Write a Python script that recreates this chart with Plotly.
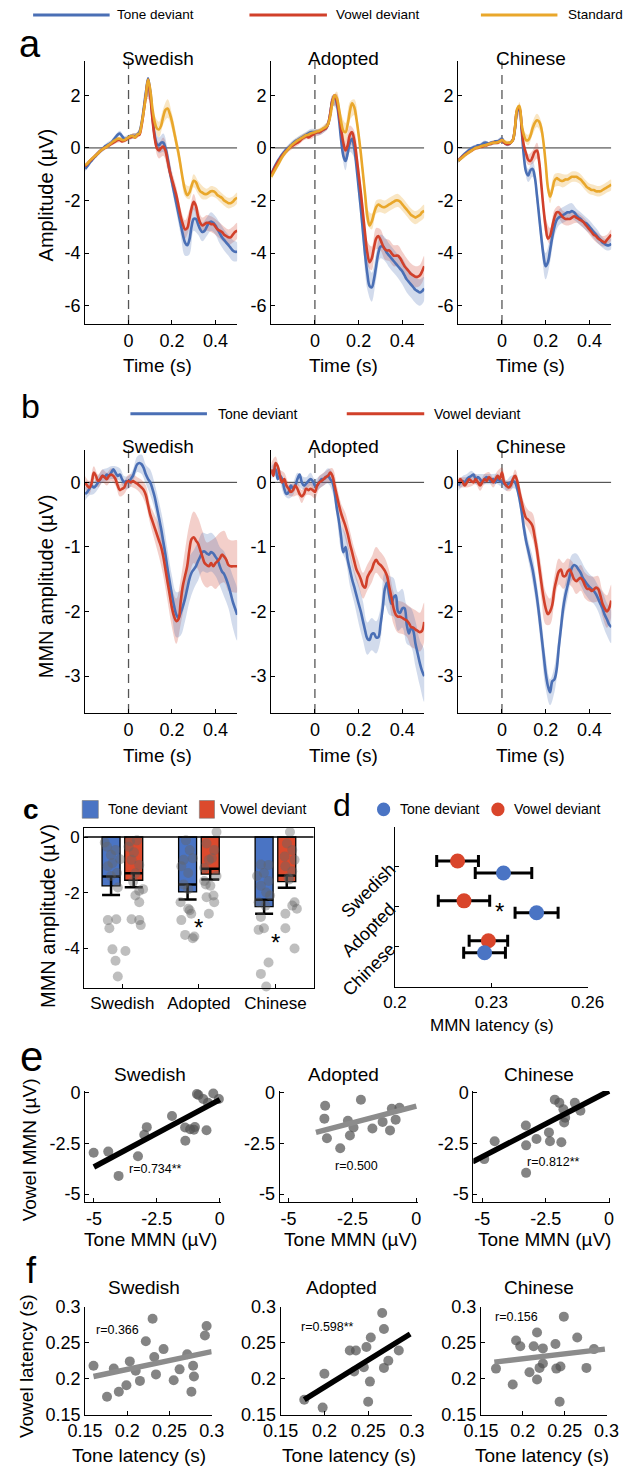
import numpy as np
import plotly.graph_objects as go

W, H = 633, 1480
FONT = "Liberation Sans, Arial, Helvetica, sans-serif"

GROUPS = ["Swedish", "Adopted", "Chinese"]
TIME = np.round(np.linspace(-0.2, 0.5, 71), 2)   # sample times (s), 10 ms steps

# ---------------- panel a : ERPs (µV) ----------------
A_SWE_STD = [-0.65,-0.6,-0.5,-0.42,-0.35,-0.28,-0.2,-0.12,-0.05,0.0,
             0.05,0.12,0.18,0.25,0.3,0.35,0.35,0.3,0.3,0.35,
             0.4,0.45,0.45,0.4,0.5,0.55,0.9,1.4,2.0,2.6,
             2.2,1.5,1.0,0.75,0.7,0.85,1.2,1.45,1.5,1.3,
             1.0,0.6,0.2,-0.2,-0.7,-1.2,-1.6,-1.8,-1.7,-1.45,
             -1.25,-1.3,-1.5,-1.65,-1.7,-1.75,-1.75,-1.7,-1.65,-1.65,
             -1.7,-1.8,-1.85,-1.9,-2.0,-2.05,-2.1,-2.1,-2.05,-1.95,-1.9]
A_SWE_VOW = [-0.7,-0.62,-0.52,-0.44,-0.36,-0.28,-0.2,-0.12,-0.05,0.0,
             0.05,0.1,0.15,0.2,0.25,0.3,0.3,0.25,0.28,0.32,
             0.38,0.4,0.45,0.4,0.48,0.5,0.85,1.4,2.0,2.6,
             2.0,1.1,0.4,0.0,-0.1,0.0,0.05,-0.1,-0.5,-0.9,
             -1.2,-1.5,-1.8,-2.2,-2.6,-2.9,-3.1,-3.05,-2.7,-2.3,
             -2.05,-2.2,-2.6,-2.85,-2.95,-2.9,-2.85,-2.85,-2.9,-2.9,
             -3.0,-3.1,-3.15,-3.2,-3.3,-3.35,-3.4,-3.4,-3.3,-3.2,-3.15]
A_SWE_TONE = [-0.8,-0.7,-0.58,-0.48,-0.38,-0.3,-0.2,-0.12,-0.05,0.05,
              0.1,0.15,0.2,0.3,0.4,0.5,0.55,0.45,0.35,0.35,
              0.4,0.45,0.45,0.45,0.5,0.6,0.95,1.5,2.1,2.65,
              2.1,1.2,0.5,0.15,0.1,0.2,0.2,0.0,-0.4,-0.9,
              -1.3,-1.7,-2.1,-2.5,-2.9,-3.3,-3.6,-3.7,-3.5,-3.0,
              -2.7,-2.7,-2.9,-3.1,-3.2,-3.15,-3.0,-2.85,-2.8,-2.85,
              -2.95,-3.1,-3.25,-3.4,-3.5,-3.6,-3.7,-3.8,-3.9,-3.95,-3.95]
A_ADO_STD = [-1.1,-0.95,-0.8,-0.65,-0.5,-0.35,-0.22,-0.12,-0.02,0.08,
             0.15,0.22,0.28,0.33,0.38,0.43,0.48,0.5,0.55,0.58,
             0.6,0.63,0.65,0.7,0.75,0.8,0.9,1.2,1.7,2.0,
             1.9,1.5,1.0,0.65,0.6,0.9,1.4,1.7,1.55,1.1,
             0.5,-0.2,-1.0,-1.8,-2.6,-2.95,-2.8,-2.5,-2.25,-2.15,
             -2.2,-2.25,-2.25,-2.2,-2.15,-2.1,-2.05,-2.0,-2.0,-2.05,
             -2.15,-2.25,-2.35,-2.45,-2.55,-2.6,-2.65,-2.6,-2.55,-2.45,-2.4]
A_ADO_VOW = [-1.0,-0.85,-0.7,-0.55,-0.42,-0.3,-0.2,-0.1,-0.02,0.05,
             0.1,0.15,0.2,0.25,0.35,0.4,0.45,0.4,0.45,0.5,
             0.55,0.6,0.6,0.65,0.7,0.75,0.9,1.3,1.8,2.0,
             1.8,1.3,0.7,0.2,-0.1,0.1,0.5,0.6,0.3,-0.3,
             -1.0,-1.7,-2.5,-3.3,-4.0,-4.35,-4.2,-3.8,-3.45,-3.35,
             -3.5,-3.7,-3.85,-3.9,-3.9,-4.0,-4.1,-4.1,-4.1,-4.2,
             -4.35,-4.5,-4.6,-4.7,-4.8,-4.85,-4.9,-4.9,-4.85,-4.7,-4.5]
A_ADO_TONE = [-1.0,-0.82,-0.65,-0.5,-0.38,-0.25,-0.15,-0.05,0.02,0.1,
              0.18,0.25,0.3,0.35,0.4,0.45,0.5,0.55,0.6,0.6,
              0.6,0.6,0.6,0.65,0.7,0.75,0.9,1.3,1.8,1.95,
              1.7,1.1,0.3,-0.3,-0.5,-0.2,0.2,0.35,0.0,-0.7,
              -1.5,-2.3,-3.2,-4.1,-4.8,-5.25,-5.3,-5.0,-4.5,-4.0,
              -3.75,-3.75,-3.85,-4.0,-4.1,-4.2,-4.3,-4.4,-4.5,-4.6,
              -4.7,-4.85,-5.0,-5.1,-5.2,-5.3,-5.4,-5.45,-5.5,-5.45,-5.35]
A_CHI_STD = [-0.5,-0.42,-0.35,-0.28,-0.22,-0.16,-0.1,-0.05,0.0,0.02,
             0.05,0.08,0.1,0.12,0.15,0.18,0.2,0.2,0.22,0.25,
             0.3,0.25,0.2,0.2,0.2,0.3,0.8,1.5,1.6,0.9,
             0.5,0.3,0.3,0.45,0.75,0.95,1.05,1.0,0.75,0.2,
             -0.6,-1.5,-1.85,-1.6,-1.25,-1.15,-1.2,-1.25,-1.25,-1.2,
             -1.2,-1.15,-1.1,-1.1,-1.1,-1.15,-1.2,-1.3,-1.4,-1.5,
             -1.55,-1.6,-1.6,-1.65,-1.65,-1.65,-1.6,-1.55,-1.5,-1.45,-1.4]
A_CHI_VOW = [-0.45,-0.4,-0.33,-0.27,-0.2,-0.15,-0.1,-0.05,0.0,0.0,
             0.05,0.05,0.1,0.1,0.15,0.15,0.2,0.2,0.2,0.25,
             0.3,0.2,0.15,0.15,0.2,0.3,0.8,1.45,1.5,0.8,
             0.1,-0.2,-0.45,-0.5,-0.35,-0.15,-0.1,-0.5,-1.4,-2.3,
             -3.0,-3.45,-3.35,-3.0,-2.65,-2.45,-2.45,-2.55,-2.65,-2.7,
             -2.7,-2.7,-2.65,-2.6,-2.65,-2.7,-2.75,-2.8,-2.9,-3.0,
             -3.1,-3.2,-3.3,-3.35,-3.45,-3.5,-3.55,-3.6,-3.5,-3.4,-3.3]
A_CHI_TONE = [-0.5,-0.4,-0.3,-0.22,-0.15,-0.08,-0.02,0.03,0.05,0.1,
              0.1,0.15,0.2,0.2,0.15,0.2,0.2,0.25,0.25,0.3,
              0.35,0.2,0.15,0.15,0.2,0.3,0.75,1.4,1.45,0.7,
              -0.3,-0.9,-1.05,-0.85,-0.8,-1.1,-1.8,-2.6,-3.4,-4.1,
              -4.5,-4.35,-3.9,-3.4,-3.0,-2.75,-2.65,-2.6,-2.55,-2.5,
              -2.45,-2.45,-2.4,-2.45,-2.55,-2.65,-2.7,-2.8,-2.85,-2.9,
              -3.0,-3.1,-3.2,-3.3,-3.4,-3.5,-3.6,-3.65,-3.7,-3.7,-3.65]

# standard errors, every 20 ms
A_SWE_STD_SE = [0.08,0.08,0.08,0.08,0.08,0.08,0.08,0.08,0.08,0.08,
                0.08,0.1,0.1,0.12,0.15,0.2,0.25,0.3,0.3,0.35,0.3,0.3,0.25,0.25,0.25,0.25,
                0.25,0.25,0.2,0.2,0.2,0.2,0.2,0.2,0.2,0.2]
A_SWE_VOW_SE = [0.08,0.08,0.08,0.08,0.08,0.08,0.08,0.08,0.08,0.08,
                0.08,0.1,0.1,0.12,0.15,0.2,0.25,0.3,0.35,0.35,0.3,0.3,0.3,0.35,0.35,0.3,
                0.3,0.3,0.3,0.3,0.3,0.3,0.3,0.3,0.3,0.3]
A_SWE_TONE_SE = [0.1,0.1,0.1,0.1,0.1,0.1,0.1,0.1,0.1,0.1,
                 0.1,0.1,0.1,0.12,0.18,0.2,0.25,0.3,0.35,0.35,0.3,0.35,0.4,0.5,0.55,0.45,
                 0.4,0.35,0.35,0.35,0.35,0.4,0.4,0.4,0.4,0.35]
A_ADO_STD_SE = [0.12,0.12,0.12,0.12,0.12,0.12,0.12,0.12,0.12,0.12,
                0.1,0.1,0.12,0.12,0.15,0.25,0.3,0.35,0.35,0.3,0.3,0.3,0.3,0.3,0.25,0.25,
                0.25,0.25,0.25,0.25,0.25,0.25,0.25,0.25,0.25,0.25]
A_ADO_VOW_SE = [0.12,0.12,0.12,0.12,0.12,0.12,0.12,0.12,0.12,0.12,
                0.12,0.12,0.12,0.15,0.2,0.25,0.3,0.35,0.35,0.35,0.4,0.45,0.45,0.45,0.4,0.4,
                0.4,0.4,0.4,0.4,0.4,0.4,0.4,0.4,0.4,0.4]
A_ADO_TONE_SE = [0.12,0.12,0.12,0.12,0.12,0.12,0.12,0.12,0.12,0.12,
                 0.12,0.12,0.12,0.15,0.2,0.25,0.3,0.35,0.35,0.4,0.45,0.55,0.6,0.55,0.5,0.45,
                 0.45,0.45,0.45,0.45,0.5,0.5,0.5,0.5,0.5,0.45]
A_CHI_STD_SE = [0.08,0.08,0.08,0.08,0.08,0.08,0.08,0.08,0.08,0.08,
                0.08,0.08,0.08,0.1,0.15,0.15,0.2,0.25,0.25,0.25,0.25,0.25,0.25,0.25,0.25,0.2,
                0.2,0.2,0.2,0.2,0.2,0.2,0.2,0.2,0.2,0.2]
A_CHI_VOW_SE = [0.08,0.08,0.08,0.08,0.08,0.08,0.08,0.08,0.08,0.08,
                0.08,0.08,0.08,0.1,0.15,0.2,0.2,0.25,0.3,0.3,0.35,0.3,0.3,0.25,0.25,0.25,
                0.25,0.2,0.2,0.2,0.2,0.2,0.2,0.2,0.2,0.2]
A_CHI_TONE_SE = [0.08,0.08,0.08,0.08,0.08,0.08,0.08,0.08,0.08,0.08,
                 0.08,0.08,0.08,0.1,0.15,0.2,0.25,0.3,0.35,0.4,0.5,0.45,0.35,0.3,0.3,0.3,
                 0.3,0.25,0.25,0.25,0.25,0.25,0.25,0.2,0.2,0.2]

# ---------------- panel b : MMN (µV) ----------------
B_SWE_TONE = [-0.18,-0.15,-0.1,-0.05,-0.08,-0.05,0.0,0.05,0.1,0.08,
              0.12,0.1,0.15,0.2,0.15,0.1,0.12,0.05,0.0,0.02,
              0.0,0.05,0.1,0.2,0.28,0.3,0.28,0.22,0.12,0.05,
              0.0,-0.1,-0.22,-0.38,-0.55,-0.72,-0.92,-1.12,-1.35,-1.55,
              -1.75,-1.92,-2.05,-2.1,-2.02,-1.92,-1.8,-1.65,-1.5,-1.4,
              -1.35,-1.3,-1.22,-1.15,-1.08,-1.07,-1.1,-1.12,-1.08,-1.1,
              -1.15,-1.2,-1.3,-1.38,-1.42,-1.5,-1.6,-1.72,-1.85,-1.95,-2.05]
B_SWE_VOW = [0.0,-0.05,-0.08,-0.02,0.15,0.1,0.02,0.05,0.1,0.08,
             0.05,0.1,0.12,0.1,0.05,-0.05,-0.12,-0.1,-0.08,0.0,
             0.02,0.0,0.02,0.0,-0.02,-0.05,-0.08,-0.12,-0.2,-0.35,
             -0.5,-0.6,-0.7,-0.8,-0.9,-1.0,-1.15,-1.35,-1.55,-1.75,
             -1.95,-2.08,-2.15,-2.12,-1.85,-1.6,-1.45,-1.3,-1.05,-0.88,
             -0.85,-0.9,-0.95,-1.05,-1.15,-1.25,-1.28,-1.3,-1.25,-1.3,
             -1.25,-1.22,-1.18,-1.12,-1.15,-1.2,-1.28,-1.3,-1.3,-1.3,-1.3]
B_ADO_TONE = [0.15,0.18,0.2,0.05,0.1,0.05,-0.1,-0.18,-0.15,-0.05,
              -0.1,-0.05,0.05,0.12,0.0,-0.05,-0.02,0.02,0.05,0.02,
              -0.05,-0.05,0.0,0.05,0.05,0.08,0.1,0.05,0.0,-0.15,
              -0.4,-0.6,-0.85,-1.08,-1.0,-1.2,-1.35,-1.5,-1.62,-1.75,
              -1.88,-2.0,-2.15,-2.3,-2.42,-2.44,-2.35,-2.34,-2.4,-2.4,
              -2.2,-1.95,-1.65,-1.55,-1.75,-1.88,-1.78,-1.75,-2.0,-2.02,
              -1.95,-1.95,-2.2,-2.34,-2.25,-2.3,-2.5,-2.65,-2.8,-2.92,-3.0]
B_ADO_VOW = [0.2,0.1,0.3,0.25,0.1,0.0,0.05,-0.05,-0.1,-0.15,
             -0.12,-0.05,-0.1,-0.18,-0.22,-0.18,-0.1,-0.12,-0.1,-0.12,
             -0.15,-0.05,0.0,0.02,0.05,0.08,0.1,0.15,0.1,-0.05,
             -0.2,-0.35,-0.48,-0.58,-0.68,-0.8,-0.95,-1.08,-1.22,-1.35,
             -1.42,-1.5,-1.6,-1.63,-1.47,-1.4,-1.35,-1.25,-1.2,-1.25,
             -1.28,-1.32,-1.37,-1.45,-1.62,-1.78,-1.95,-2.05,-2.08,-2.08,
             -2.1,-2.12,-2.14,-2.18,-2.24,-2.25,-2.28,-2.3,-2.32,-2.3,-2.16]
B_CHI_TONE = [-0.05,0.0,0.02,0.0,0.05,0.08,0.1,0.12,0.05,0.08,
              0.05,0.0,0.05,0.08,0.05,0.02,0.05,0.0,0.05,0.02,
              0.0,-0.02,-0.05,-0.02,0.0,0.02,0.0,-0.1,-0.25,-0.45,
              -0.7,-0.9,-1.05,-1.2,-1.35,-1.55,-1.78,-2.05,-2.35,-2.65,
              -2.95,-3.15,-3.25,-3.08,-3.05,-2.9,-2.55,-2.25,-1.95,-1.75,
              -1.6,-1.45,-1.32,-1.28,-1.3,-1.35,-1.4,-1.48,-1.53,-1.58,
              -1.62,-1.65,-1.68,-1.73,-1.8,-1.88,-1.95,-2.05,-2.12,-2.2,-2.24]
B_CHI_VOW = [0.0,0.05,0.0,-0.05,0.0,0.05,0.02,0.0,0.05,0.0,
             -0.05,0.0,0.05,0.02,0.08,0.05,0.0,0.05,0.1,0.05,
             0.15,0.0,-0.05,-0.08,-0.05,0.05,0.1,0.02,-0.15,-0.3,
             -0.45,-0.55,-0.58,-0.62,-0.68,-0.85,-1.05,-1.3,-1.55,-1.78,
             -1.95,-2.04,-2.0,-1.9,-1.65,-1.5,-1.38,-1.35,-1.45,-1.45,
             -1.38,-1.35,-1.42,-1.5,-1.53,-1.5,-1.48,-1.52,-1.6,-1.65,
             -1.65,-1.68,-1.66,-1.63,-1.65,-1.75,-1.88,-1.95,-2.0,-1.95,-1.83]
B_SWE_TONE_SE = [0.1,0.1,0.1,0.1,0.1,0.1,0.1,0.1,0.1,0.1,
                 0.1,0.1,0.12,0.15,0.15,0.2,0.2,0.25,0.3,0.3,0.3,0.35,0.35,0.35,0.35,0.3,
                 0.3,0.3,0.3,0.3,0.3,0.3,0.35,0.35,0.4,0.4]
B_SWE_VOW_SE = [0.1,0.1,0.1,0.1,0.1,0.1,0.1,0.1,0.1,0.1,
                0.1,0.1,0.1,0.12,0.15,0.15,0.2,0.25,0.3,0.3,0.3,0.35,0.35,0.4,0.4,0.4,
                0.4,0.4,0.35,0.35,0.4,0.4,0.4,0.4,0.4,0.4]
B_ADO_TONE_SE = [0.1,0.1,0.1,0.1,0.1,0.1,0.1,0.1,0.1,0.1,
                 0.1,0.1,0.1,0.12,0.15,0.15,0.2,0.2,0.25,0.25,0.3,0.3,0.25,0.25,0.25,0.25,
                 0.25,0.3,0.3,0.3,0.3,0.3,0.3,0.35,0.35,0.4]
B_ADO_VOW_SE = [0.1,0.1,0.1,0.1,0.1,0.1,0.1,0.1,0.1,0.1,
                0.1,0.1,0.1,0.1,0.12,0.15,0.15,0.2,0.2,0.2,0.2,0.2,0.2,0.2,0.2,0.2,
                0.2,0.25,0.25,0.25,0.25,0.25,0.3,0.3,0.3,0.3]
B_CHI_TONE_SE = [0.08,0.08,0.08,0.08,0.08,0.08,0.08,0.08,0.08,0.08,
                 0.08,0.08,0.1,0.1,0.12,0.15,0.15,0.2,0.2,0.25,0.25,0.2,0.2,0.2,0.2,0.2,
                 0.2,0.2,0.2,0.2,0.2,0.2,0.2,0.25,0.25,0.25]
B_CHI_VOW_SE = [0.08,0.08,0.08,0.08,0.08,0.08,0.08,0.08,0.08,0.08,
                0.08,0.08,0.08,0.1,0.12,0.15,0.15,0.2,0.2,0.25,0.25,0.2,0.2,0.2,0.2,0.2,
                0.2,0.2,0.2,0.2,0.2,0.2,0.2,0.2,0.25,0.25]

# ---------------- panel c : mean MMN amplitude ----------------
C_MEAN_TONE = [-1.75, -1.97, -2.50]
C_SE_TONE = [0.33, 0.27, 0.25]
C_MEAN_VOWEL = [-1.55, -1.33, -1.60]
C_SE_VOWEL = [0.25, 0.19, 0.22]
C_SWE_TONE = [-0.35,-0.64,-0.47,-1.05,-0.94,-1.29,-1.40,-1.81,-2.98,-2.95,-3.27,-4.03,-4.44,-5.00,-4.09,-0.80,-0.20]
C_SWE_TONE_JIT = [-0.20,-0.15,-0.09,-0.19,-0.13,-0.07,-0.15,-0.06,-0.19,-0.08,-0.17,-0.13,-0.09,-0.06,0.04,-0.03,-0.23]
C_SWE_VOW = [0.33,-0.12,-0.35,-0.55,-0.82,-1.0,-1.3,-1.93,-2.10,-2.34,-2.95,-2.98,-3.16,-0.15,-1.6,-1.87]
C_SWE_VOW_JIT = [0.06,0.19,0.08,0.15,0.12,0.22,0.17,0.22,0.17,0.22,0.12,0.22,0.24,0.10,0.14,0.27]
C_ADO_TONE = [-0.12,-0.47,-0.82,-0.76,-1.05,-1.29,-1.70,-1.87,-2.34,-2.63,-2.57,-2.98,-2.75,-3.51,-3.63,-3.57]
C_ADO_TONE_JIT = [-0.17,-0.12,-0.20,-0.08,-0.23,-0.14,-0.20,-0.14,-0.24,-0.12,-0.14,-0.23,-0.10,-0.18,-0.08,-0.06]
C_ADO_VOW = [0.18,-0.23,-0.47,-0.82,-0.76,-1.11,-1.40,-1.70,-1.75,-2.10,-2.16,-2.34,-2.75,-1.58]
C_ADO_VOW_JIT = [0.23,0.10,0.20,0.13,0.17,0.07,0.23,0.09,0.15,0.19,0.10,0.20,0.13,0.07]
C_CHI_TONE = [-0.99,-1.40,-1.29,-1.58,-1.75,-1.99,-2.10,-2.34,-2.46,-2.87,-3.27,-3.33,-4.50,-4.91,-5.36,-1.0]
C_CHI_TONE_JIT = [-0.19,-0.24,-0.15,-0.09,-0.19,-0.12,-0.07,-0.22,-0.13,-0.19,-0.15,-0.22,-0.09,-0.19,-0.12,-0.09]
C_CHI_VOW = [0.18,-0.23,-0.47,-0.70,-0.82,-1.05,-1.23,-1.52,-2.34,-2.46,-2.57,-2.75,-3.27,-4.00,-1.46]
C_CHI_VOW_JIT = [0.19,0.15,0.22,0.12,0.25,0.13,0.22,0.18,0.25,0.22,0.28,0.13,0.13,0.25,0.17]

# ---------------- panel d : MMN latency (s) ----------------
D_TONE = [0.2338, 0.2441, 0.2279]
D_TONE_ERR = [0.0088, 0.0067, 0.0065]
D_VOWEL = [0.2195, 0.2215, 0.2291]
D_VOWEL_ERR = [0.0065, 0.0080, 0.0060]

# ---------------- panel e : tone vs vowel MMN ----------------
E_SWE_X = [-5.01,-4.43,-4.02,-3.25,-3.00,-2.90,-1.90,-1.38,-1.37,-1.18,-1.03,-0.99,-0.53,-0.91,-0.85,-0.66,-0.47,-0.26,-0.04]
E_SWE_Y = [-2.96,-2.90,-4.10,-3.13,-2.07,-1.69,-1.14,-1.71,-2.36,-1.79,-1.82,-1.68,-1.84,-0.05,-0.10,-0.30,-0.49,-0.03,-0.30]
E_SWE_FIT_X = [-5.0, 0.0]
E_SWE_FIT_Y = [-3.66, -0.33]
E_ADO_X = [-3.57,-3.60,-2.17,-3.50,-2.98,-2.68,-2.60,-2.46,-1.72,-1.32,-1.03,-0.81,-0.96,-0.66]
E_ADO_Y = [-0.63,-1.27,-0.34,-2.24,-2.73,-1.37,-2.10,-1.71,-1.76,-1.43,-1.85,-1.32,-0.78,-0.73]
E_ADO_FIT_X = [-3.93, 0.0]
E_ADO_FIT_Y = [-1.95, -0.65]
E_CHI_X = [-5.38,-4.92,-4.51,-3.27,-3.27,-3.28,-2.86,-2.37,-2.33,-2.14,-1.96,-1.80,-1.73,-1.77,-1.35,-1.13,-1.88]
E_CHI_Y = [-2.78,-3.27,-2.39,-3.95,-2.59,-1.61,-2.28,-1.95,-2.39,-0.33,-0.49,-0.81,-1.22,-1.46,-0.49,-0.88,-2.44]
E_CHI_FIT_X = [-5.38, 0.0]
E_CHI_FIT_Y = [-3.41, 0.10]
E_R = ["r=0.734**", "r=0.500", "r=0.812**"]

# ---------------- panel f : tone vs vowel latency ----------------
F_SWE_X = [0.160,0.176,0.184,0.190,0.199,0.203,0.210,0.215,0.222,0.230,0.232,0.234,0.243,0.255,0.262,0.271,0.278,0.279,0.276,0.292,0.294]
F_SWE_Y = [0.218,0.175,0.214,0.182,0.191,0.224,0.211,0.197,0.252,0.283,0.230,0.206,0.241,0.198,0.213,0.234,0.218,0.203,0.182,0.260,0.273]
F_SWE_FIT_X = [0.160, 0.300]
F_SWE_FIT_Y = [0.203, 0.2376]
F_ADO_X = [0.177,0.198,0.200,0.229,0.236,0.234,0.245,0.248,0.253,0.252,0.250,0.266,0.268,0.268,0.273,0.285]
F_ADO_Y = [0.171,0.160,0.207,0.239,0.239,0.210,0.216,0.244,0.257,0.196,0.168,0.291,0.269,0.215,0.225,0.239]
F_ADO_FIT_X = [0.177, 0.298]
F_ADO_FIT_Y = [0.171, 0.262]
F_CHI_X = [0.168,0.188,0.192,0.197,0.208,0.213,0.217,0.217,0.220,0.224,0.224,0.239,0.240,0.245,0.249,0.244,0.265,0.276,0.285]
F_CHI_Y = [0.214,0.192,0.253,0.245,0.209,0.245,0.264,0.199,0.215,0.242,0.221,0.248,0.214,0.217,0.286,0.168,0.257,0.215,0.241]
F_CHI_FIT_X = [0.166, 0.298]
F_CHI_FIT_Y = [0.223, 0.241]
F_R = ["r=0.366", "r=0.598**", "r=0.156"]

# ======================================================================
BLUE, RED, ORANGE = "#4A6FB5", "#D1402A", "#E9A72B"
BLUE_F, RED_F, ORANGE_F = "rgba(74,111,181,0.25)", "rgba(209,64,42,0.25)", "rgba(233,167,43,0.28)"
BAR_BLUE, BAR_RED = "#4A74C4", "#DC4A2D"

fig = go.Figure()
shapes, anns = [], []
_n = [0]


def axes(px0, px1, top, bot, xkw, ykw, tick=18):
    _n[0] += 1
    sfx = "" if _n[0] == 1 else str(_n[0])
    base = dict(showline=True, linecolor="black", linewidth=1, ticks="inside", ticklen=4,
                tickwidth=1, tickcolor="black", showgrid=False, zeroline=False,
                tickfont=dict(family=FONT, size=tick, color="black"), fixedrange=True)
    fig.update_layout(**{
        "xaxis" + sfx: {**base, "domain": [px0 / W, px1 / W], "anchor": "y" + sfx, **xkw},
        "yaxis" + sfx: {**base, "domain": [1 - bot / H, 1 - top / H], "anchor": "x" + sfx, **ykw},
    })
    return "x" + sfx, "y" + sfx


def text(s, x, y, size, xa="center", ya="middle", angle=0, bold=False):
    anns.append(dict(text=("<b>%s</b>" % s) if bold else s, x=x / W, y=1 - y / H,
                     xref="paper", yref="paper", xanchor=xa, yanchor=ya, showarrow=False,
                     textangle=angle, font=dict(family=FONT, size=size, color="black")))


def pline(x0, x1, y0, y1, color, width):
    shapes.append(dict(type="line", xref="paper", yref="paper", x0=x0 / W, x1=x1 / W,
                       y0=1 - y0 / H, y1=1 - y1 / H, line=dict(color=color, width=width)))


def band(xr, yr, mean, se, fill):
    ts = TIME[::2]
    m = np.array(mean)[::2]
    s = np.array(se)
    fig.add_trace(go.Scatter(x=np.concatenate([ts, ts[::-1]]),
                             y=np.concatenate([m + s, (m - s)[::-1]]),
                             fill="toself", fillcolor=fill, line=dict(width=0),
                             mode="lines", line_shape="spline", hoverinfo="skip",
                             xaxis=xr, yaxis=yr))


def curve(xr, yr, mean, color):
    fig.add_trace(go.Scatter(x=TIME, y=mean, mode="lines", line=dict(color=color, width=2.6),
                             line_shape="spline", hoverinfo="skip", xaxis=xr, yaxis=yr))


def erp_refs(xr, yr, ylo, yhi):
    shapes.append(dict(type="line", xref=xr, yref=yr, x0=-0.2, x1=0.5, y0=0, y1=0,
                       line=dict(color="#333", width=1), layer="below"))
    shapes.append(dict(type="line", xref=xr, yref=yr, x0=0, x1=0, y0=ylo, y1=yhi,
                       line=dict(color="#555", width=1.3, dash="9px,6px"), layer="below"))


XCOLS = [(71, 232), (268, 430), (466, 628)]
TITLE_X = [148, 345, 543]
TIME_AX = dict(range=[-0.2, 0.5], tickvals=[0, 0.2, 0.4], ticktext=["0", "0.2", "0.4"])

# ---------------- panel a ----------------
A_DATA = [(A_SWE_TONE, A_SWE_VOW, A_SWE_STD, A_SWE_TONE_SE, A_SWE_VOW_SE, A_SWE_STD_SE),
          (A_ADO_TONE, A_ADO_VOW, A_ADO_STD, A_ADO_TONE_SE, A_ADO_VOW_SE, A_ADO_STD_SE),
          (A_CHI_TONE, A_CHI_VOW, A_CHI_STD, A_CHI_TONE_SE, A_CHI_VOW_SE, A_CHI_STD_SE)]
for i, (tone, vow, std, tse, vse, sse) in enumerate(A_DATA):
    xr, yr = axes(XCOLS[i][0], XCOLS[i][1], 52, 319, dict(TIME_AX),
                  dict(range=[-6.7, 3.3], tickvals=[-6, -4, -2, 0, 2], ticktext=["-6", "-4", "-2", "0", "2"]))
    erp_refs(xr, yr, -6.7, 3.3)
    band(xr, yr, std, sse, ORANGE_F)
    band(xr, yr, vow, vse, RED_F)
    band(xr, yr, tone, tse, BLUE_F)
    curve(xr, yr, tone, BLUE)
    curve(xr, yr, vow, RED)
    curve(xr, yr, std, ORANGE)
    text(GROUPS[i], TITLE_X[i], 49, 19)
    text("Time (s)", TITLE_X[i], 361, 19)

# ---------------- panel b ----------------
B_DATA = [(B_SWE_TONE, B_SWE_VOW, B_SWE_TONE_SE, B_SWE_VOW_SE),
          (B_ADO_TONE, B_ADO_VOW, B_ADO_TONE_SE, B_ADO_VOW_SE),
          (B_CHI_TONE, B_CHI_VOW, B_CHI_TONE_SE, B_CHI_VOW_SE)]
for i, (tone, vow, tse, vse) in enumerate(B_DATA):
    xr, yr = axes(XCOLS[i][0], XCOLS[i][1], 447, 714, dict(TIME_AX),
                  dict(range=[-3.57, 0.5], tickvals=[-3, -2, -1, 0], ticktext=["-3", "-2", "-1", "0"]))
    erp_refs(xr, yr, -3.57, 0.5)
    band(xr, yr, vow, vse, RED_F)
    band(xr, yr, tone, tse, BLUE_F)
    curve(xr, yr, tone, BLUE)
    curve(xr, yr, vow, RED)
    text(GROUPS[i], TITLE_X[i], 443, 19)
    text("Time (s)", TITLE_X[i], 757, 19)

# ---------------- panel c ----------------
xr, yr = axes(70, 313, 831, 993,
              dict(range=[0.5, 3.5], tickvals=[1, 2, 3], ticktext=GROUPS, mirror=True),
              dict(range=[-5.4, 0.32], tickvals=[-4, -2, 0], ticktext=["-4", "-2", "0"], mirror=True), tick=17)
cats = np.array([1, 2, 3])
fig.add_trace(go.Bar(x=cats - 0.148, y=C_MEAN_TONE, width=0.235, marker=dict(color=BAR_BLUE, line=dict(color="black", width=1.3)),
                     error_y=dict(type="data", array=C_SE_TONE, color="black", thickness=2.5, width=9),
                     xaxis=xr, yaxis=yr, hoverinfo="skip"))
fig.add_trace(go.Bar(x=cats + 0.148, y=C_MEAN_VOWEL, width=0.235, marker=dict(color=BAR_RED, line=dict(color="black", width=1.3)),
                     error_y=dict(type="data", array=C_SE_VOWEL, color="black", thickness=2.5, width=9),
                     xaxis=xr, yaxis=yr, hoverinfo="skip"))
C_DOTS = [(1, C_SWE_TONE, C_SWE_TONE_JIT), (1, C_SWE_VOW, C_SWE_VOW_JIT),
          (2, C_ADO_TONE, C_ADO_TONE_JIT), (2, C_ADO_VOW, C_ADO_VOW_JIT),
          (3, C_CHI_TONE, C_CHI_TONE_JIT), (3, C_CHI_VOW, C_CHI_VOW_JIT)]
for c, vals, jit in C_DOTS:
    fig.add_trace(go.Scatter(x=c + np.array(jit), y=vals, mode="markers",
                             marker=dict(color="rgba(100,100,100,0.42)", size=10, line=dict(width=0)),
                             cliponaxis=False, xaxis=xr, yaxis=yr, hoverinfo="skip"))
shapes.append(dict(type="line", xref=xr, yref=yr, x0=0.5, x1=3.5, y0=0, y1=0, line=dict(color="black", width=1.3)))
for cx, cy in [(2.0, -3.25), (3.0, -3.8)]:
    anns.append(dict(text="*", x=cx, y=cy, xref=xr, yref=yr, showarrow=False,
                     font=dict(family=FONT, size=24, color="black")))
fig.update_layout(barmode="overlay")
text("MMN amplitude (µV)", 31, 920, 20, angle=-90)

# ---------------- panel d ----------------
xr, yr = axes(399, 603, 830, 992,
              dict(range=[0.2, 0.26], tickvals=[0.2, 0.23, 0.26], ticktext=["0.2", "0.23", "0.26"]),
              dict(range=[0, 4], tickvals=[3, 2, 1], ticktext=GROUPS, tickangle=-45,
                   tickfont=dict(family=FONT, size=18, color="black")), tick=17)
ypos = np.array([3, 2, 1])
fig.add_trace(go.Scatter(x=D_VOWEL, y=ypos + 0.15, mode="markers",
                         marker=dict(color="#D9452B", size=15),
                         error_x=dict(type="data", array=D_VOWEL_ERR, color="black", thickness=3, width=6),
                         xaxis=xr, yaxis=yr, hoverinfo="skip"))
fig.add_trace(go.Scatter(x=D_TONE, y=ypos - 0.15, mode="markers",
                         marker=dict(color="#4A74C4", size=15),
                         error_x=dict(type="data", array=D_TONE_ERR, color="black", thickness=3, width=6),
                         xaxis=xr, yaxis=yr, hoverinfo="skip"))
anns.append(dict(text="*", x=0.2324, y=1.88, xref=xr, yref=yr, showarrow=False,
                 font=dict(family=FONT, size=24, color="black")))
text("MMN latency (s)", 502, 1032, 17)

# ---------------- panel e ----------------
E_COLS = [(71, 215), (277, 423), (482, 627)]
E_DATA = [(E_SWE_X, E_SWE_Y, E_SWE_FIT_X, E_SWE_FIT_Y, "black"),
          (E_ADO_X, E_ADO_Y, E_ADO_FIT_X, E_ADO_FIT_Y, "#8c8c8c"),
          (E_CHI_X, E_CHI_Y, E_CHI_FIT_X, E_CHI_FIT_Y, "black")]
E_TITLE_X = [140, 345, 551]
E_LAB_X = [140, 352, 557]
E_R_POS = [(146, 1177), (358, 1174), (567, 1170)]
for i, (ex, ey, fx, fy, lc) in enumerate(E_DATA):
    xr, yr = axes(E_COLS[i][0], E_COLS[i][1], 1098, 1211,
                  dict(range=[-5.35, 0.05], tickvals=[-5, -2.5, 0], ticktext=["-5", "-2.5", "0"]),
                  dict(range=[-5.4, 0.1], tickvals=[-5, -2.5, 0], ticktext=["-5", "-2.5", "0"]), tick=18)
    fig.add_trace(go.Scatter(x=ex, y=ey, mode="markers", cliponaxis=False,
                             marker=dict(color="rgba(85,85,85,0.72)", size=10, line=dict(width=0)),
                             xaxis=xr, yaxis=yr, hoverinfo="skip"))
    fig.add_trace(go.Scatter(x=fx, y=fy, mode="lines", cliponaxis=False, line=dict(color=lc, width=5.5),
                             xaxis=xr, yaxis=yr, hoverinfo="skip"))
    text(GROUPS[i], E_TITLE_X[i], 1081, 19)
    text("Tone MMN (µV)", E_LAB_X[i], 1249, 19)
    text(E_R[i], E_R_POS[i][0], E_R_POS[i][1], 12.5)
text("Vowel MMN (µV)", 12, 1158, 19, angle=-90)

# ---------------- panel f ----------------
F_COLS = [(71, 205), (278, 417), (490, 623)]
F_DATA = [(F_SWE_X, F_SWE_Y, F_SWE_FIT_X, F_SWE_FIT_Y, "#8c8c8c"),
          (F_ADO_X, F_ADO_Y, F_ADO_FIT_X, F_ADO_FIT_Y, "black"),
          (F_CHI_X, F_CHI_Y, F_CHI_FIT_X, F_CHI_FIT_Y, "#8c8c8c")]
F_TITLE_X = [133, 342, 551]
F_LAB_X = [128, 350, 555]
F_R_POS = [(105, 1341), (328, 1338), (528, 1328)]
LAT_T = dict(range=[0.15, 0.3], tickvals=[0.15, 0.2, 0.25, 0.3], ticktext=["0.15", "0.2", "0.25", "0.3"])
for i, (ex, ey, fx, fy, lc) in enumerate(F_DATA):
    xr, yr = axes(F_COLS[i][0], F_COLS[i][1], 1317, 1427, dict(LAT_T), dict(LAT_T), tick=18)
    fig.add_trace(go.Scatter(x=ex, y=ey, mode="markers", cliponaxis=False,
                             marker=dict(color="rgba(85,85,85,0.72)", size=10, line=dict(width=0)),
                             xaxis=xr, yaxis=yr, hoverinfo="skip"))
    fig.add_trace(go.Scatter(x=fx, y=fy, mode="lines", cliponaxis=False, line=dict(color=lc, width=5.5),
                             xaxis=xr, yaxis=yr, hoverinfo="skip"))
    text(GROUPS[i], F_TITLE_X[i], 1298, 19)
    text("Tone latency (s)", F_LAB_X[i], 1468, 19)
    text(F_R[i], F_R_POS[i][0], F_R_POS[i][1], 12.5)
text("Vowel latency (s)", 9, 1378, 19, angle=-90)

# ---------------- axis titles, panel letters, legends ----------------
text("Amplitude (µV)", 30, 188, 20, angle=-90)
text("MMN amplitude (µV)", 30, 585, 20, angle=-90)

for s, x, y, sz, b in [("a", 13, 35, 38, False), ("b", 13, 402, 34, False), ("c", 14, 812, 28, True),
                       ("d", 343, 808, 32, False), ("e", 14, 1063, 42, False), ("f", 14, 1280, 36, False)]:
    text(s, x, y, sz, bold=b)

# legend a
for (x0, x1, tx, col, lab) in [(16, 97, 103, BLUE, "Tone deviant"), (245, 327, 335, RED, "Vowel deviant"),
                               (490, 571, 580, ORANGE, "Standard")]:
    pline(x0, x1, 5, 5, col, 3)
    text(lab, tx, 5, 13.5, xa="left")
# legend b
for (x0, x1, tx, col, lab) in [(119, 200, 210, BLUE, "Tone deviant"), (348, 430, 438, RED, "Vowel deviant")]:
    pline(x0, x1, 410, 410, col, 3)
    text(lab, tx, 410, 14, xa="left")
# legend c
for (x0, x1, tx, col, lab) in [(68, 85, 93, BAR_BLUE, "Tone deviant"), (192, 208, 212, BAR_RED, "Vowel deviant")]:
    shapes.append(dict(type="rect", xref="paper", yref="paper", x0=x0 / W, x1=x1 / W,
                       y0=1 - 821 / H, y1=1 - 803 / H, fillcolor=col, line=dict(color="#777", width=0.6)))
    text(lab, tx, 812, 14, xa="left")
# legend d
for (cx, tx, col, lab) in [(387, 402, "#4A74C4", "Tone deviant"), (508, 523, "#D9452B", "Vowel deviant")]:
    shapes.append(dict(type="circle", xref="paper", yref="paper", x0=(cx - 7) / W, x1=(cx + 7) / W,
                       y0=1 - 819 / H, y1=1 - 805 / H, fillcolor=col, line=dict(width=0)))
    text(lab, tx, 812, 14, xa="left")

fig.update_layout(width=W, height=H, margin=dict(l=0, r=0, t=0, b=0), showlegend=False,
                  paper_bgcolor="white", plot_bgcolor="rgba(0,0,0,0)",
                  font=dict(family=FONT, color="black"), shapes=shapes, annotations=anns)
fig.write_html("out.html", config={"displayModeBar": False, "staticPlot": True},
               post_script="document.body.style.margin='0px';document.body.style.padding='0px';")
